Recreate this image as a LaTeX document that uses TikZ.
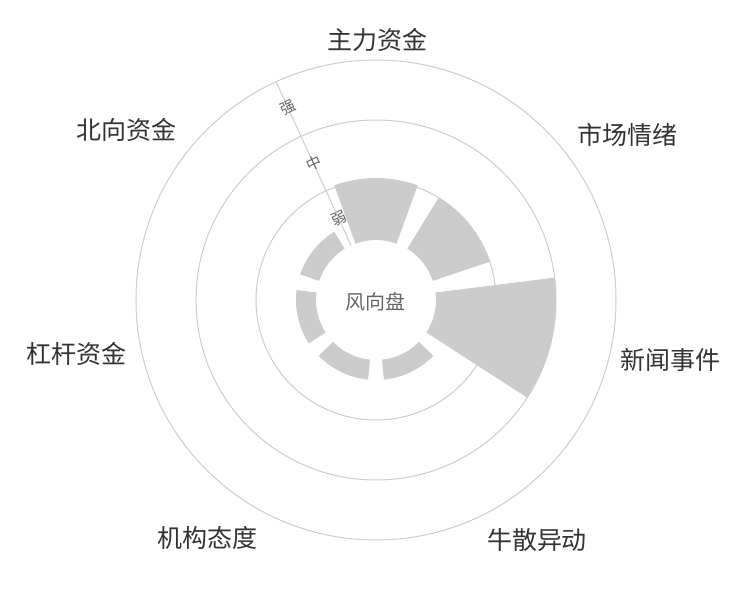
\documentclass[tikz,border=0pt]{standalone}
\usepackage{fontspec}
\setmainfont{Noto Sans CJK SC}
\definecolor{ring}{HTML}{CCCCCC}
\definecolor{bar}{HTML}{CCCCCC}
\definecolor{lab}{HTML}{333333}
\definecolor{sub}{HTML}{666666}
\begin{document}
\begin{tikzpicture}[x=1pt,y=1pt,
  cat/.style={text=lab,font=\fontsize{25}{30}\selectfont,inner sep=0},
  lvl/.style={text=sub,font=\fontsize{15}{18}\selectfont,inner sep=0,rotate=25}]
\useasboundingbox (-376,-300) rectangle (374,300);
\foreach \r in {240,180,120} \draw[ring,line width=1pt] (0,0) circle[radius=\r];
\newcommand{\sector}[2]{\fill[bar] ({#1-20}:60) arc[start angle={#1-20},end angle={#1+20},radius=60] -- ({#1+20}:#2) arc[start angle={#1+20},end angle={#1-20},radius=#2] -- cycle;}
\sector{90}{122}
\sector{38.57}{120}
\sector{-12.86}{180}
\sector{-64.29}{80}
\sector{-115.71}{80}
\sector{-167.14}{80}
\sector{141.43}{80}
\coordinate (a0) at (114.6:60);
\coordinate (a1) at (114.6:240);
\draw[ring,line width=1pt] (a0) -- (a1);
\node[lvl] (s) at (114.6:212) {强};
\node[lvl] (m) at (114.6:150) {中};
\node[lvl] (w) at (114.6:90) {弱};
\node[text=sub,font=\fontsize{20}{24}\selectfont] (c) at (0,-2) {风向盘};
\node[cat] (l1) at (2,260) {主力资金};
\node[cat] (l2) at (251,165) {市场情绪};
\node[cat] (l3) at (294,-60) {新闻事件};
\node[cat] (l4) at (161,-240) {牛散异动};
\node[cat] (l5) at (-168,-238) {机构态度};
\node[cat] (l6) at (-299,-54) {杠杆资金};
\node[cat] (l7) at (-249,170) {北向资金};
\end{tikzpicture}
\end{document}
